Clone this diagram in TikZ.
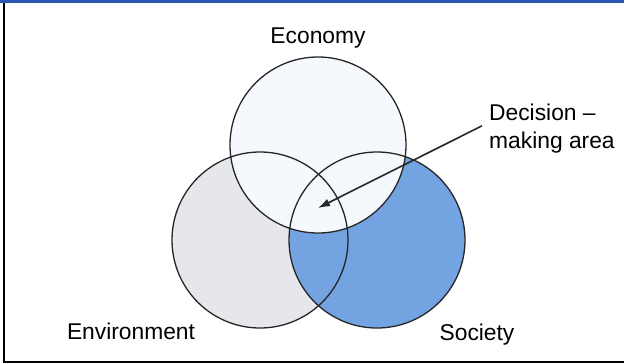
\documentclass[tikz,border=0pt]{standalone}
\usepackage{fontspec}
\setmainfont{Liberation Sans}
\usetikzlibrary{arrows.meta}

\definecolor{envgray}{RGB}{230,231,234}
\definecolor{socblue}{RGB}{116,163,226}
\definecolor{ecowhite}{RGB}{245,248,252}
\definecolor{rimgray}{RGB}{38,38,38}
\definecolor{barblue}{RGB}{45,85,175}

\tikzset{
  setdisc/.style={circle, minimum size=176pt, inner sep=0pt, outer sep=0pt},
  rim/.style={draw=rimgray, line width=1.3pt},
  lbl/.style={font=\fontsize{22.8}{28}\selectfont, inner sep=0pt, text=black},
  pointer/.style={draw=rimgray, line width=1.6pt, -{Latex[length=12pt,width=8pt]}},
}

\begin{document}
\begin{tikzpicture}[x=1pt,y=-1pt]
  \useasboundingbox (0,0) rectangle (624,364);
  \fill[white] (0,0) rectangle (624,364);

  % page frame: blue strip on top, black rule left and bottom
  \fill[barblue] (0,0) rectangle (624,3);
  \draw[line width=1.5pt] (4,3) -- (4,362) -- (624,362);

  % the three sets, filled back to front
  \node[setdisc, fill=envgray]  (env) at (260,240) {};
  \node[setdisc, fill=socblue]  (soc) at (377,240) {};
  \node[setdisc, fill=ecowhite] (eco) at (318,145) {};

  % outlines over all fills
  \foreach \c in {env,soc,eco}
    \draw[rim] (\c.center) circle[radius=88pt];

  % labels
  \node[lbl, anchor=base] (ecolbl) at (318,43)  {Economy};
  \node[lbl, anchor=base] (envlbl) at (131,339) {Environment};
  \node[lbl, anchor=base] (soclbl) at (477,340) {Society};
  \node[lbl, anchor=north west, align=left] (dec) at (489,104)
    {Decision --\\making area};

  % pointer into the common region
  \coordinate (tip) at (318,208);
  \draw[pointer] ([xshift=-7pt,yshift=3pt]dec.west) -- (tip);
\end{tikzpicture}
\end{document}
